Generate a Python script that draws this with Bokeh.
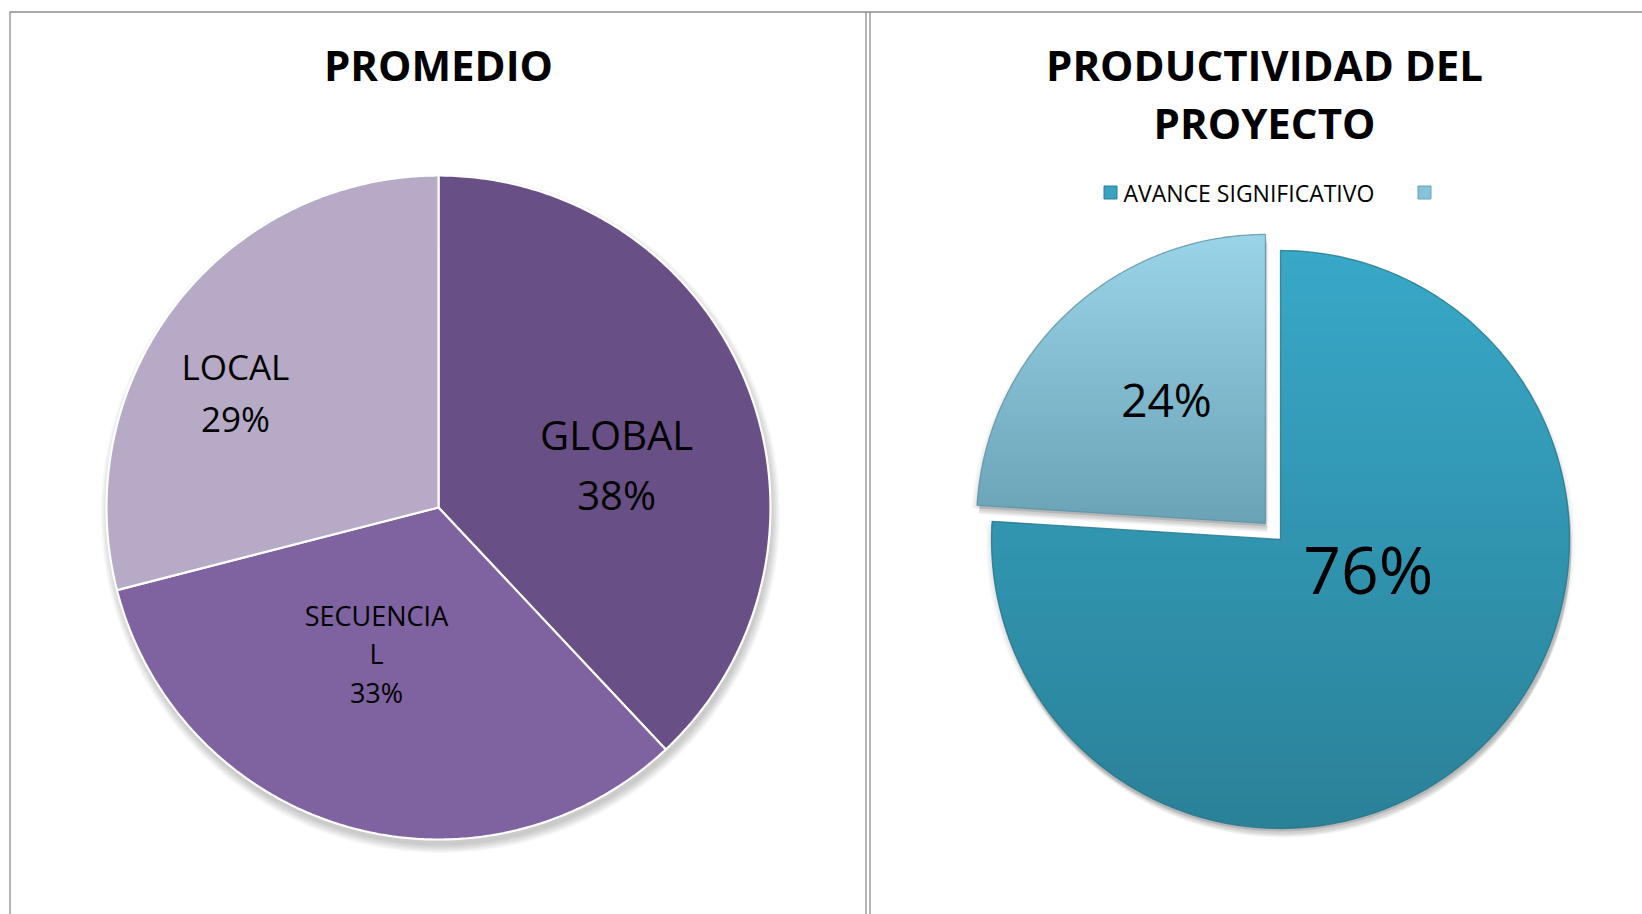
import math
import numpy as np
from bokeh.plotting import figure
from bokeh.models import Range1d
from bokeh.core.properties import value
from bokeh.embed import file_html
from bokeh.resources import INLINE

# ---------------- data ----------------
left_title = "PROMEDIO"
left_categories = ["GLOBAL", "SECUENCIAL", "LOCAL"]
left_category_lines = [["GLOBAL"], ["SECUENCIA", "L"], ["LOCAL"]]
left_values = [38, 33, 29]

right_title_lines = ["PRODUCTIVIDAD DEL", "PROYECTO"]
right_categories = ["AVANCE SIGNIFICATIVO", ""]
right_values = [76, 24]

# ---------------- styles / layout ----------------
FONT = value("Open Sans")
PAGE_W, PAGE_H = 1642, 914
TEXT_SHIFT = 0.0  # fraction of font size between anchor and visual cap centre


def sy(s):
    return PAGE_H - s


left_colors = ["#685086", "#7F63A0", "#B6AAC7"]
right_top_colors = ["#38A8C8", "#9AD4E8"]
right_bot_colors = ["#2A8198", "#6AA2B6"]
right_edge_colors = ["#25748A", "#5E93A6"]
legend_colors = ["#3AA3C0", "#86C3D8"]

# label placement: (radial fraction, angle shift deg, font px, line spacing px)
left_label_style = [(0.552, -8.0, 40, 60), (0.478, -6.8, 27, 38.5), (0.703, 8.3, 35, 52)]
right_label_style = [(0.32, 28.6, 66, 0), (0.549, -4.6, 46, 0)]

p = figure(width=PAGE_W, height=PAGE_H, x_range=Range1d(0, PAGE_W), y_range=Range1d(0, PAGE_H),
           output_backend="svg", toolbar_location=None, min_border=0,
           x_axis_type=None, y_axis_type=None)
p.grid.visible = False
p.outline_line_color = None
p.background_fill_color = "white"
p.border_fill_color = "white"

# frame lines
border_col = "#8C8C8C"
p.segment(x0=[9, 9.5, 865.5, 869.5], y0=[sy(11.5), sy(11.5), sy(11.5), sy(11.5)],
          x1=[PAGE_W, 9.5, 865.5, 869.5], y1=[sy(11.5), 0, 0, 0],
          line_color=border_col, line_width=1.3)


def wedge_poly(cx, cy, r, a0, a1, n=240):
    ang = np.radians(np.linspace(a0, a1, n))
    xs = [cx] + list(cx + r * np.cos(ang))
    ys = [cy] + list(cy + r * np.sin(ang))
    return xs, ys


def slice_angles(vals):
    tot = float(sum(vals))
    out = []
    cum = 0.0
    for v in vals:
        a0 = 90 - 360 * cum / tot
        cum += v
        a1 = 90 - 360 * cum / tot
        out.append((a0, a1))
    return out


def pct_text(vals):
    tot = float(sum(vals))
    return ["%d%%" % round(100 * v / tot) for v in vals]


def hexmix(c1, c2, t):
    a = [int(c1[i:i + 2], 16) for i in (1, 3, 5)]
    b = [int(c2[i:i + 2], 16) for i in (1, 3, 5)]
    return "#%02x%02x%02x" % tuple(int(round(a[k] + (b[k] - a[k]) * t)) for k in range(3))


def clip_half(pts, yc, keep_above):
    out = []
    n = len(pts)
    for i in range(n):
        cur = pts[i]
        prev = pts[i - 1]
        cin = cur[1] >= yc if keep_above else cur[1] <= yc
        pin = prev[1] >= yc if keep_above else prev[1] <= yc
        if cin:
            if not pin:
                t = (yc - prev[1]) / (cur[1] - prev[1])
                out.append((prev[0] + t * (cur[0] - prev[0]), yc))
            out.append(cur)
        elif pin:
            t = (yc - prev[1]) / (cur[1] - prev[1])
            out.append((prev[0] + t * (cur[0] - prev[0]), yc))
    return out


def draw_text_block(lines, cx, cy, size, spacing, bold=False, align="center"):
    n = len(lines)
    xs, ys = [], []
    for k, _ in enumerate(lines):
        center = cy + (n - 1) / 2 * spacing - k * spacing
        xs.append(cx)
        ys.append(center - TEXT_SHIFT * size)
    p.text(x=xs, y=ys, text=lines, text_font=FONT, text_font_size="%dpx" % size,
           text_font_style="bold" if bold else "normal", text_align=align,
           text_baseline="alphabetic", text_color="black")


# ---------------- left pie ----------------
LCX, LCY, LR = 438, sy(507), 332
for i in range(6):
    p.circle(x=[LCX + 2], y=[LCY - 6], radius=LR + 1.5 * i, fill_color="black",
             fill_alpha=0.035, line_color=None)
l_ang = slice_angles(left_values)
lxs, lys = [], []
for a0, a1 in l_ang:
    xs, ys = wedge_poly(LCX, LCY, LR, a0, a1)
    lxs.append(xs)
    lys.append(ys)
p.patches(xs=lxs, ys=lys, fill_color=left_colors, line_color="white", line_width=2.2)

l_pct = pct_text(left_values)
for i, (a0, a1) in enumerate(l_ang):
    frac, shift, size, spacing = left_label_style[i]
    mid = math.radians((a0 + a1) / 2 + shift)
    cx = LCX + frac * LR * math.cos(mid)
    cy = LCY + frac * LR * math.sin(mid)
    draw_text_block(left_category_lines[i] + [l_pct[i]], cx, cy, size, spacing)

draw_text_block([left_title], 438, sy(63.5), 42, 0, bold=True)

# ---------------- right pie ----------------
RCX, RCY, RR = 1280, sy(539), 289
EXPLODE = [0, 22]
r_ang = slice_angles(right_values)
polys = []
apexes = []
for i, (a0, a1) in enumerate(r_ang):
    mid = math.radians((a0 + a1) / 2)
    cx = RCX + EXPLODE[i] * math.cos(mid)
    cy = RCY + EXPLODE[i] * math.sin(mid)
    apexes.append((cx, cy))
    polys.append(wedge_poly(cx, cy, RR, a0, a1))

# shadows
for k in range(6):
    p.patches(xs=[[x + 2 for x in xs] for xs, ys in polys],
              ys=[[y - 5 - 0.8 * k for y in ys] for xs, ys in polys],
              fill_color="black", fill_alpha=0.03, line_color=None)
    p.patches(xs=[[x + (x - apexes[j][0]) * 0.004 * k for x in polys[j][0]] for j in range(2)],
              ys=[[y - 3 for y in polys[j][1]] for j in range(2)],
              fill_color="black", fill_alpha=0.02, line_color=None)

# gradient fills
NSTRIP = 70
for i, (xs, ys) in enumerate(polys):
    pts = list(zip(xs, ys))
    ymin, ymax = min(ys), max(ys)
    sxs, sys_, scol = [], [], []
    for s in range(NSTRIP):
        yhi = ymax - (ymax - ymin) * s / NSTRIP
        ylo = ymax - (ymax - ymin) * (s + 1) / NSTRIP
        q = clip_half(pts, ylo - 0.9, True)
        if q:
            q = clip_half(q, yhi, False)
        if len(q) >= 3:
            sxs.append([a for a, b in q])
            sys_.append([b for a, b in q])
            scol.append(hexmix(right_top_colors[i], right_bot_colors[i], (s + 0.5) / NSTRIP))
    p.patches(xs=sxs, ys=sys_, fill_color=scol, line_color=None)

p.patches(xs=[xs for xs, ys in polys], ys=[ys for xs, ys in polys], fill_color=None,
          line_color=right_edge_colors, line_width=1.3, line_alpha=0.8)

r_pct = pct_text(right_values)
for i, (a0, a1) in enumerate(r_ang):
    frac, shift, size, spacing = right_label_style[i]
    mid = math.radians((a0 + a1) / 2 + shift)
    cx = apexes[i][0] + frac * RR * math.cos(mid)
    cy = apexes[i][1] + frac * RR * math.sin(mid)
    draw_text_block([r_pct[i]], cx, cy, size, 0)

# title
draw_text_block(right_title_lines, 1264, sy(92.5), 42, 58, bold=True)

# legend
leg_x = [1110, 1424]
p.scatter(x=leg_x, y=[sy(192)] * 2, marker="square", size=13, fill_color=legend_colors,
          line_color=["#2B7F98", "#6AA2B6"], line_width=1)
for lx, lab in zip(leg_x, right_categories):
    if lab:
        draw_text_block([lab], lx + 13, sy(192), 23, 0, align="left")

open("out.html", "w").write(file_html(p, INLINE))
